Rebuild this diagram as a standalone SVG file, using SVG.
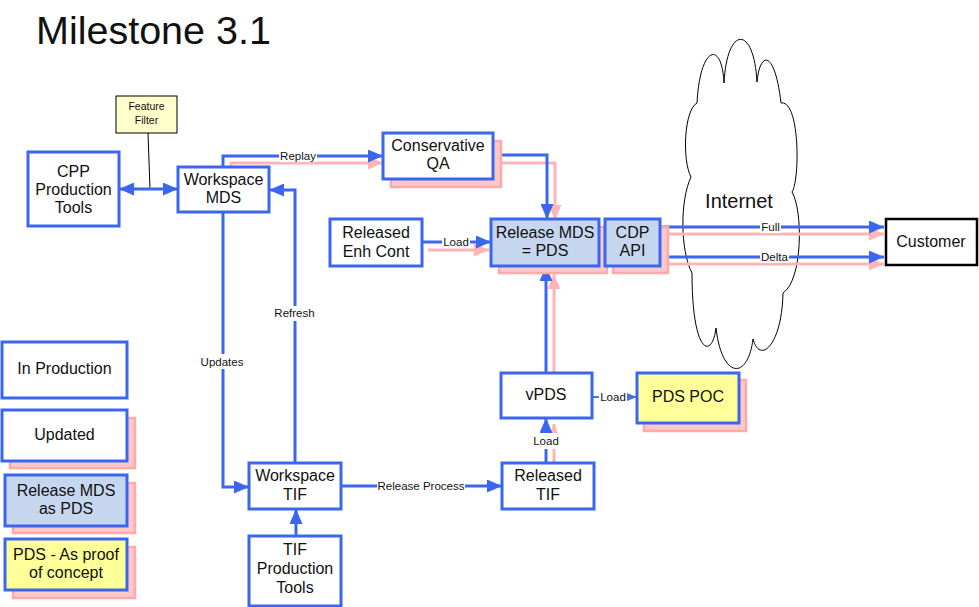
<svg xmlns="http://www.w3.org/2000/svg" width="979" height="607" viewBox="0 0 979 607">
<style>
text{font-family:"Liberation Sans",Arial,sans-serif;fill:#111;text-anchor:middle}
.t{font-size:16px}
.l{font-size:11.5px}
.s{font-size:10.5px}
.box{fill:#fff;stroke:#3a66f0;stroke-width:3}
.blue{fill:#c6d6ef;stroke:#3a66f0;stroke-width:3}
.yel{fill:#ffff99;stroke:#3a66f0;stroke-width:3}
.sh{fill:#ffc8c8;stroke:#ffaaaa;stroke-width:2.5}
.c{fill:none;stroke:#3a66f0;stroke-width:3}
.p{fill:none;stroke:#ffb5b5;stroke-width:3}
.bg{fill:#fff}
</style>
<defs>
<marker id="ab" viewBox="0 0 15 13" refX="15" refY="6.5" markerWidth="15" markerHeight="13" markerUnits="userSpaceOnUse" orient="auto-start-reverse"><path d="M0,0L15,6.5L0,13z" fill="#3a66f0"/></marker>
<marker id="ap" viewBox="0 0 15 13" refX="15" refY="6.5" markerWidth="15" markerHeight="13" markerUnits="userSpaceOnUse" orient="auto"><path d="M0,0L15,6.5L0,13z" fill="#ffb5b5"/></marker>
<marker id="as" viewBox="0 0 10 8" refX="10" refY="4" markerWidth="10" markerHeight="8" markerUnits="userSpaceOnUse" orient="auto"><path d="M0,0L10,4L0,8z" fill="#4a72e0"/></marker>
</defs>
<rect width="979" height="607" fill="#fff"/>
<text x="36" y="44" style="font-size:39.5px;text-anchor:start">Milestone 3.1</text>

<g id="internet">
<path d="M697,103 C700,45 722,40 724,83 C727,25 754,25 757,82 C760,50 775,50 781,103 C800,100 800,180 792,192 C803,210 803,280 783,293 C782,345 760,365 753,339 C748,380 722,380 716,328 C712,360 692,355 692,273 C680,250 680,200 691,177 C682,160 684,110 697,103 Z" fill="#fff" stroke="#000" stroke-width="1"/>
<text x="739" y="208" style="font-size:20px">Internet</text>
</g>

<g id="connectors">
<path class="p" d="M231,167V163H383" marker-end="url(#ap)"/>
<path class="p" d="M501,163H555V220" marker-end="url(#ap)"/>
<path class="p" d="M428,250H489" marker-end="url(#ap)"/>
<path class="p" d="M668,234H884" marker-end="url(#ap)"/>
<path class="p" d="M668,264H884" marker-end="url(#ap)"/>
<path class="p" d="M554,380V274" marker-end="url(#ap)"/>
<path class="p" d="M554,465V424" marker-end="url(#ap)"/>

<line x1="148" y1="133" x2="150" y2="189" stroke="#000" stroke-width="1"/>
<path class="c" d="M119,189H178" marker-start="url(#ab)" marker-end="url(#ab)"/>
<path class="c" d="M223,167V156H383" marker-end="url(#ab)"/>
<path class="c" d="M493,155H547V219" marker-end="url(#ab)"/>
<path class="c" d="M422,242H491" marker-end="url(#ab)"/>
<path class="c" d="M660,227H884" marker-end="url(#ab)"/>
<path class="c" d="M660,257H884" marker-end="url(#ab)"/>
<path class="c" d="M223,212V487H249" marker-end="url(#ab)"/>
<path class="c" d="M295,463V190H269" marker-end="url(#ab)"/>
<path class="c" d="M341,486H502" marker-end="url(#ab)"/>
<path class="c" d="M296,536V509" marker-end="url(#ab)"/>
<path class="c" d="M546,463V418" marker-end="url(#ab)"/>
<path class="c" d="M546,373V266" marker-end="url(#ab)"/>
<path d="M592,397H637" fill="none" stroke="#4a72e0" stroke-width="2" marker-end="url(#as)"/>

<rect class="bg" x="279" y="150" width="38" height="12"/><text class="l" x="298" y="160">Replay</text>
<rect class="bg" x="442" y="236" width="28" height="12"/><text class="l" x="456" y="246">Load</text>
<rect class="bg" x="760" y="221" width="21" height="12"/><text class="l" x="770.5" y="231">Full</text>
<rect class="bg" x="760" y="251" width="29" height="12"/><text class="l" x="774.5" y="261">Delta</text>
<rect class="bg" x="200" y="354" width="44" height="15"/><text class="l" x="222" y="366">Updates</text>
<rect class="bg" x="274" y="306" width="41" height="15"/><text class="l" x="294.5" y="317">Refresh</text>
<rect class="bg" x="377" y="480" width="88" height="12"/><text class="l" x="421" y="490">Release Process</text>
<rect class="bg" x="532" y="433" width="28" height="16"/><text class="l" x="546" y="445">Load</text>
<rect class="bg" x="599" y="391" width="28" height="12"/><text class="l" x="613" y="401">Load</text>
</g>

<g id="feature-filter">
<rect x="116" y="96" width="61" height="37" fill="#ffffcc" stroke="#000" stroke-width="1"/>
<text class="s" x="146.5" y="110">Feature</text>
<text class="s" x="146.5" y="124">Filter</text>
</g>

<g id="cpp-tools">
<rect class="box" x="28" y="152" width="91" height="74"/>
<text class="t" x="73.5" y="177">CPP</text>
<text class="t" x="73.5" y="195">Production</text>
<text class="t" x="73.5" y="213">Tools</text>
</g>

<g id="workspace-mds">
<rect class="box" x="178" y="167" width="91" height="45"/>
<text class="t" x="223.5" y="185">Workspace</text>
<text class="t" x="223.5" y="203">MDS</text>
</g>

<g id="conservative-qa">
<rect class="sh" x="391" y="141" width="110" height="46"/>
<rect class="box" x="383" y="133" width="110" height="46"/>
<text class="t" x="438" y="151">Conservative</text>
<text class="t" x="438" y="169">QA</text>
</g>

<g id="released-enh-cont">
<rect class="box" x="330" y="219" width="92" height="47"/>
<text class="t" x="376" y="238">Released</text>
<text class="t" x="376" y="257">Enh Cont</text>
</g>

<g id="release-mds">
<rect class="sh" x="499" y="227" width="108" height="46"/>
<rect class="blue" x="491" y="219" width="108" height="47"/>
<text class="t" x="545" y="238">Release MDS</text>
<text class="t" x="545" y="256">= PDS</text>
</g>

<g id="cdp-api">
<rect class="sh" x="613" y="227" width="55" height="46"/>
<rect class="blue" x="605" y="219" width="55" height="47"/>
<text class="t" x="632.5" y="238">CDP</text>
<text class="t" x="632.5" y="256">API</text>
</g>

<g id="customer">
<rect x="886" y="219" width="91" height="46" fill="#fff" stroke="#000" stroke-width="2.5"/>
<text class="t" x="931" y="247">Customer</text>
</g>

<g id="workspace-tif">
<rect class="box" x="249" y="463" width="92" height="46"/>
<text class="t" x="295" y="481">Workspace</text>
<text class="t" x="295" y="500">TIF</text>
</g>

<g id="tif-tools">
<rect class="box" x="249" y="536" width="92" height="70"/>
<text class="t" x="295" y="555">TIF</text>
<text class="t" x="295" y="574">Production</text>
<text class="t" x="295" y="593">Tools</text>
</g>

<g id="released-tif">
<rect class="box" x="502" y="463" width="92" height="46"/>
<text class="t" x="548" y="481">Released</text>
<text class="t" x="548" y="500">TIF</text>
</g>

<g id="vpds">
<rect class="box" x="501" y="373" width="91" height="45"/>
<text class="t" x="546" y="400">vPDS</text>
</g>

<g id="pds-poc">
<rect class="sh" x="644" y="380" width="102" height="51"/>
<rect class="yel" x="637" y="373" width="102" height="50"/>
<text class="t" x="688" y="402">PDS POC</text>
</g>

<g id="legend-in-production">
<rect class="box" x="2" y="342" width="125" height="56"/>
<text class="t" x="64.5" y="374">In Production</text>
</g>
<g id="legend-updated">
<rect class="sh" x="10" y="418" width="125" height="50"/>
<rect class="box" x="2" y="410" width="125" height="51"/>
<text class="t" x="64.5" y="440">Updated</text>
</g>
<g id="legend-release-mds">
<rect class="sh" x="13" y="483" width="122" height="50"/>
<rect class="blue" x="5" y="475" width="122" height="51"/>
<text class="t" x="66" y="496">Release MDS</text>
<text class="t" x="66" y="514">as PDS</text>
</g>
<g id="legend-pds-poc">
<rect class="sh" x="13" y="547" width="122" height="51"/>
<rect class="yel" x="5" y="539" width="122" height="51"/>
<text class="t" x="66" y="560">PDS - As proof</text>
<text class="t" x="66" y="578">of concept</text>
</g>
</svg>
